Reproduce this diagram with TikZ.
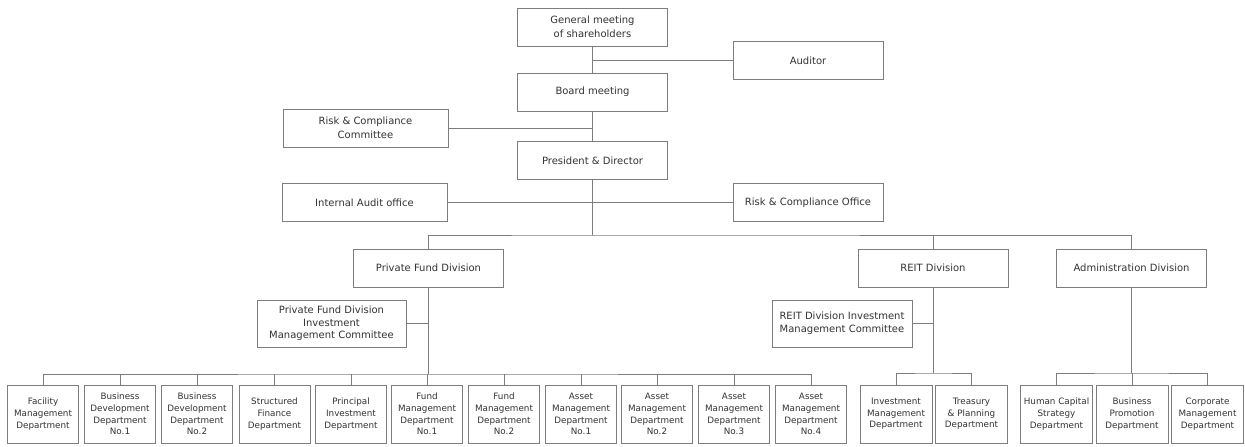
\documentclass[tikz,border=0pt]{standalone}
\usepackage{fontspec}
\setmainfont{DejaVu Sans}
\usetikzlibrary{positioning}
\definecolor{linegray}{RGB}{125,125,125}
\definecolor{textgray}{RGB}{50,50,50}
\tikzset{orgbox/.style = {rectangle, draw=linegray, line width=1pt, text=textgray,
                          inner sep=0, align=center, minimum width=150pt, minimum height=38pt,
                          font=\fontsize{10}{14}\selectfont}}
\tikzset{cttbox/.style = {orgbox, minimum height=47pt, font=\fontsize{10}{12.6}\selectfont}}
\tikzset{deptbox/.style = {orgbox, minimum width=71pt, minimum height=58pt,
                           font=\fontsize{8.8}{11.7}\selectfont}}
\tikzset{orgline/.style = {draw=linegray, line width=1pt}}

\begin{document}
\begin{tikzpicture}[x=1pt, y=-1pt]
    \useasboundingbox (0, 0) rectangle (1245, 447);

    % top of the chart
    \node [orgbox] (gm) at (592.5, 27) {General meeting\\of shareholders};
    \node [orgbox] (aud) at (808, 60.5) {Auditor};
    \node [orgbox] (board) at (592.5, 92) {Board meeting};
    \node [orgbox, minimum width=165pt] (rcc) at (365.5, 128) {Risk \& Compliance\\Committee};
    \node [orgbox] (pres) at (592.5, 160.5) {President \& Director};
    \node [orgbox, minimum width=165pt] (iao) at (364.5, 202.5) {Internal Audit office};
    \node [orgbox] (rco) at (808, 202.5) {Risk \& Compliance Office};

    % divisions
    \node [orgbox] (pfd) at (428.5, 268) {Private Fund Division};
    \node [orgbox] (reit) at (933, 268) {REIT Division};
    \node [orgbox] (adm) at (1131.5, 268) {Administration Division};
    \node [cttbox, minimum width=149pt] (pfimc) at (331.5, 323.5) {Private Fund Division\\Investment\\Management Committee};
    \node [cttbox, minimum width=140pt] (rdimc) at (842, 323.5) {REIT Division Investment\\Management Committee};

    % departments
    \node [deptbox] (fac) at (43, 414) {Facility\\Management\\Department};
    \node [deptbox] (bd1) at (120, 414) {Business\\Development\\Department\\No.1};
    \node [deptbox] (bd2) at (197, 414) {Business\\Development\\Department\\No.2};
    \node [deptbox] (sf) at (274.5, 414) {Structured\\Finance\\Department};
    \node [deptbox] (pi) at (351, 414) {Principal\\Investment\\Department};
    \node [deptbox] (fm1) at (427, 414) {Fund\\Management\\Department\\No.1};
    \node [deptbox] (fm2) at (504, 414) {Fund\\Management\\Department\\No.2};
    \node [deptbox] (am1) at (581, 414) {Asset\\Management\\Department\\No.1};
    \node [deptbox] (am2) at (657, 414) {Asset\\Management\\Department\\No.2};
    \node [deptbox] (am3) at (734, 414) {Asset\\Management\\Department\\No.3};
    \node [deptbox] (am4) at (811, 414) {Asset\\Management\\Department\\No.4};
    \node [deptbox, minimum width=72pt] (im) at (896, 414) {Investment\\Management\\Department};
    \node [deptbox, minimum width=72pt] (tp) at (971.5, 414) {Treasury\\\& Planning\\Department};
    \node [deptbox, minimum width=72pt] (hc) at (1056.5, 414) {Human Capital\\Strategy\\Department};
    \node [deptbox, minimum width=72pt] (bp) at (1132, 414) {Business\\Promotion\\Department};
    \node [deptbox, minimum width=72pt] (cm) at (1207.5, 414) {Corporate\\Management\\Department};

    \coordinate (bus) at (592.5, 235);
    \coordinate (pfbus) at (428.5, 374);
    \coordinate (reitbus) at (933, 373);
    \coordinate (admbus) at (1131.5, 373);

    \draw [orgline] (gm) -- (board);
    \draw [orgline] (aud.west) -- (aud.west -| gm);
    \draw [orgline] (board) -- (pres);
    \draw [orgline] (rcc.east) -- (rcc.east -| board);
    \draw [orgline] (pres.south) -- (bus);
    \draw [orgline] (iao.east) -- (rco.west);
    \draw [orgline] (pfd.north) |- (bus) -| (adm.north);
    \draw [orgline] (reit.north) -- (reit.north |- bus);

    \draw [orgline] (pfd.south) -- (pfbus);
    \draw [orgline] (pfimc.east) -- (pfimc.east -| pfd);
    \draw [orgline] (fac.north) |- (pfbus) -| (am4.north);
    \draw [orgline] (bd1.north) -- (bd1.north |- pfbus);
    \draw [orgline] (bd2.north) -- (bd2.north |- pfbus);
    \draw [orgline] (sf.north) -- (sf.north |- pfbus);
    \draw [orgline] (pi.north) -- (pi.north |- pfbus);
    \draw [orgline] (fm1.north) -- (fm1.north |- pfbus);
    \draw [orgline] (fm2.north) -- (fm2.north |- pfbus);
    \draw [orgline] (am1.north) -- (am1.north |- pfbus);
    \draw [orgline] (am2.north) -- (am2.north |- pfbus);
    \draw [orgline] (am3.north) -- (am3.north |- pfbus);

    \draw [orgline] (reit.south) -- (reitbus);
    \draw [orgline] (rdimc.east) -- (rdimc.east -| reit);
    \draw [orgline] (im.north) |- (reitbus) -| (tp.north);

    \draw [orgline] (adm.south) -- (admbus);
    \draw [orgline] (hc.north) |- (admbus) -| (cm.north);
    \draw [orgline] (bp.north) -- (bp.north |- admbus);
  \end{tikzpicture}
\end{document}
